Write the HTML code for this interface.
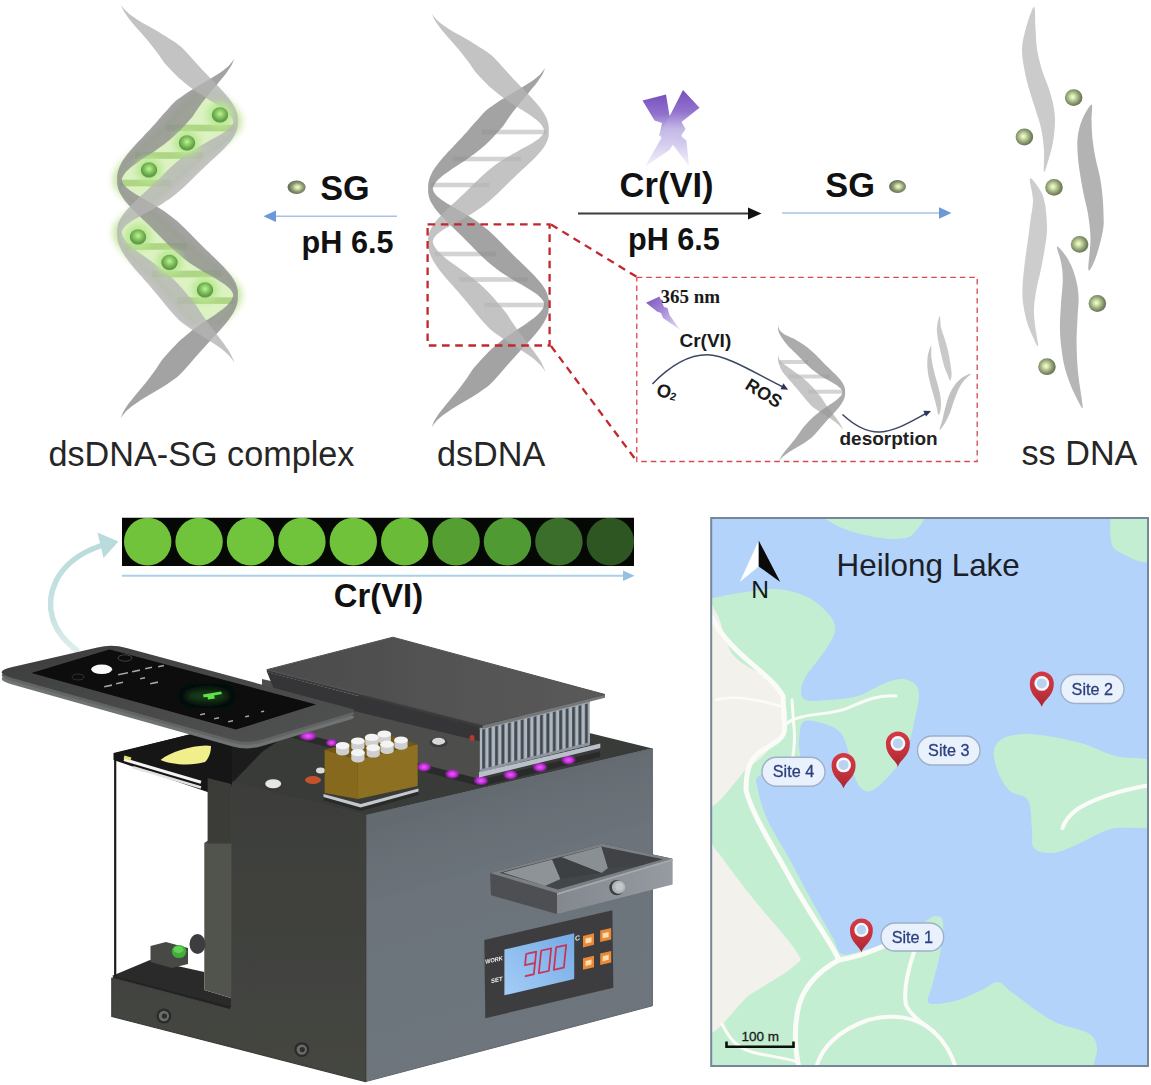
<!DOCTYPE html>
<html><head><meta charset="utf-8"><title>Graphical abstract</title>
<style>html,body{margin:0;padding:0;background:#fff;}body{width:1151px;height:1085px;overflow:hidden;font-family:"Liberation Sans",sans-serif;}svg{display:block;}</style>
</head><body>
<svg width="1151" height="1085" viewBox="0 0 1151 1085">
<rect width="1151" height="1085" fill="#ffffff"/>
<defs><path id="hxL" d="M432.1,14 L433.6,16.3 L435.5,18.6 L437.8,20.8 L440.3,23 L443,25.1 L446,27.1 L449.2,29.2 L452.5,31.2 L455.9,33.2 L459.4,35.1 L462.9,37.1 L466.4,39.1 L469.9,41.1 L473.3,43.2 L476.7,45.2 L480,47.4 L483.3,49.5 L486.4,51.6 L489.4,53.8 L492.3,56 L494.8,58.5 L497.2,61.1 L499.5,63.5 L501.7,66 L504,68.5 L506.2,71 L508.5,73.5 L510.8,76.1 L513.2,78.7 L515.7,81.3 L518.3,84 L521,86.7 L523.7,89.5 L526.5,92.4 L529.2,95.3 L532,98.2 L534.7,101.2 L537.3,104.2 L539.8,107.3 L542,110.3 L544.1,113.4 L545.8,116.6 L547.1,119.7 L548.1,122.8 L548.7,125.9 L548.9,128.9 L548.8,131.8 L548.8,134.9 L548.2,138 L547.1,141.3 L545.5,144.5 L543.5,147.7 L541.1,150.9 L538.4,154.1 L535.5,157.2 L532.5,160.2 L529.3,163.3 L526.2,166.2 L523,169.1 L519.9,172 L516.9,174.8 L514.1,177.5 L511.3,180.1 L508.6,182.7 L506,185.3 L503.5,187.8 L501,190.3 L498.4,192.8 L495.8,195.3 L493.1,197.8 L490.2,200.3 L487.2,202.8 L484.1,205.3 L480.8,207.7 L477.3,210.1 L473.7,212.4 L470.1,214.7 L466.3,216.8 L462.5,219 L458.8,221 L455.1,223.1 L451.5,225 L448.1,226.9 L444.9,228.8 L442,230.6 L439.4,232.4 L437.2,234.2 L435.4,236 L434,237.8 L433.1,239.7 L432.8,241.7 L433.4,243.9 L434.3,245.9 L435.5,248 L437,249.9 L438.7,251.9 L440.7,253.9 L442.9,255.9 L445.2,257.8 L447.8,259.9 L450.5,261.9 L453.4,264 L456.3,266.1 L459.3,268.2 L462.3,270.4 L465.4,272.6 L468.4,274.9 L471.4,277.2 L474.4,279.5 L477.3,281.9 L480.1,284.3 L482.8,286.8 L485.4,289.3 L487.9,291.8 L490.3,294.3 L492.6,296.8 L494.8,299.3 L497,301.9 L499.1,304.4 L501.1,306.8 L503.2,309.3 L505.2,311.8 L507.2,314.3 L508.9,317.1 L510.7,320 L512.6,322.8 L514.6,325.7 L516.6,328.6 L518.7,331.6 L521,334.6 L523.2,337.6 L525.6,340.5 L527.9,343.5 L530.2,346.5 L532.5,349.5 L534.7,352.4 L536.8,355.4 L538.8,358.3 L540.5,361.1 L542.1,363.9 L543.4,366.7 L544.5,369.3 L545.2,372 L545.2,372 L543.9,369.6 L542.3,367.3 L540.4,365.1 L538.3,362.9 L535.9,360.7 L533.4,358.6 L530.6,356.5 L527.7,354.5 L524.7,352.4 L521.6,350.4 L518.5,348.4 L515.3,346.4 L512,344.3 L508.8,342.3 L505.6,340.3 L502.4,338.2 L499.3,336.1 L496.3,333.9 L493.3,331.8 L490.4,329.6 L488,327 L485.6,324.5 L483.3,322 L481.1,319.5 L479,317 L476.9,314.5 L474.9,312 L472.9,309.5 L470.9,307 L468.8,304.5 L466.8,302 L464.6,299.5 L462.5,296.9 L460.2,294.3 L457.9,291.6 L455.5,288.9 L453.1,286.1 L450.6,283.4 L448.1,280.5 L445.6,277.7 L443.2,274.7 L440.8,271.8 L438.5,268.8 L436.4,265.8 L434.4,262.8 L432.7,259.8 L431.2,256.8 L429.9,253.7 L429,250.7 L428.4,247.7 L428.1,244.8 L428.2,241.9 L428.1,239 L428.4,235.9 L429.2,232.6 L430.5,229.4 L432.3,226.2 L434.5,223 L437,219.8 L439.8,216.7 L442.7,213.6 L445.8,210.5 L449,207.5 L452.1,204.6 L455.3,201.7 L458.3,198.9 L461.3,196.1 L464.1,193.4 L466.8,190.8 L469.4,188.3 L472,185.7 L474.5,183.2 L477.1,180.7 L479.6,178.2 L482.3,175.7 L485.1,173.2 L488,170.7 L491,168.2 L494.3,165.7 L497.6,163.3 L501.1,161 L504.7,158.7 L508.5,156.4 L512.2,154.3 L516,152.2 L519.8,150.1 L523.4,148.1 L526.9,146.2 L530.3,144.3 L533.3,142.5 L536.1,140.6 L538.5,138.9 L540.6,137.1 L542.2,135.3 L543.4,133.5 L544.2,131.5 L543.9,129.5 L543.1,127.4 L541.9,125.5 L540.4,123.6 L538.5,121.7 L536.4,119.8 L533.9,117.9 L531.3,116 L528.4,114.1 L525.3,112.1 L522.1,110 L518.8,108 L515.5,105.9 L512.1,103.7 L508.8,101.5 L505.4,99.2 L502.2,96.9 L499,94.5 L495.9,92.1 L493,89.6 L490.1,87.2 L487.4,84.6 L484.9,82.1 L482.4,79.6 L480,77.1 L477.7,74.6 L475.4,72.1 L473.5,69.3 L471.6,66.5 L469.6,63.6 L467.5,60.8 L465.4,57.9 L463.1,54.9 L460.7,51.9 L458.3,49 L455.7,45.9 L453.1,42.9 L450.4,39.9 L447.7,36.9 L445.1,33.9 L442.6,30.9 L440.2,28 L438,25.1 L436.1,22.2 L434.4,19.4 L433,16.7 L432.1,14Z"/><path id="hxD" d="M545,68 L544.1,70.7 L542.9,73.4 L541.3,76.2 L539.4,79.1 L537.4,81.9 L535.1,84.9 L532.7,87.8 L530.2,90.8 L527.7,93.9 L525.1,96.9 L522.5,99.9 L520,102.9 L517.6,105.9 L515.3,108.9 L513,111.8 L510.9,114.8 L508.9,117.6 L506.9,120.5 L505.1,123.3 L503.2,126.1 L501,128.6 L498.8,131.1 L496.5,133.6 L494.2,136.1 L491.8,138.7 L489.2,141.2 L486.6,143.7 L483.8,146.2 L480.9,148.7 L478,151.1 L474.9,153.5 L471.7,155.8 L468.5,158.1 L465.2,160.4 L461.9,162.5 L458.6,164.7 L455.4,166.8 L452.3,168.8 L449.3,170.9 L446.4,172.9 L443.8,174.8 L441.4,176.7 L439.2,178.7 L437.3,180.6 L435.7,182.5 L434.4,184.5 L433.4,186.5 L432.8,188.6 L433.2,190.6 L434.1,192.6 L435.5,194.4 L437.2,196.2 L439.3,198.1 L441.8,199.9 L444.5,201.8 L447.5,203.7 L450.8,205.6 L454.2,207.6 L457.7,209.6 L461.3,211.7 L465,213.8 L468.6,216 L472.2,218.3 L475.7,220.6 L479,223 L482.3,225.4 L485.4,227.9 L488.4,230.3 L491.2,232.9 L493.9,235.4 L496.5,237.9 L499,240.4 L501.5,242.9 L503.9,245.4 L506.3,247.9 L508.8,250.5 L511.3,253.1 L514,255.7 L516.7,258.4 L519.6,261.1 L522.5,264 L525.5,266.8 L528.5,269.8 L531.6,272.8 L534.5,275.8 L537.3,278.9 L540,282 L542.4,285.1 L544.5,288.3 L546.3,291.5 L547.6,294.7 L548.5,297.9 L548.9,301 L548.8,304 L548.9,306.9 L548.7,309.8 L548.1,312.9 L547.1,316 L545.8,319.1 L544.1,322.2 L542.2,325.2 L540.1,328.3 L537.8,331.3 L535.3,334.3 L532.7,337.3 L530.1,340.2 L527.5,343.1 L524.8,346 L522.2,348.8 L519.6,351.5 L517.1,354.2 L514.7,356.9 L512.4,359.5 L510.1,362 L507.9,364.6 L505.7,367.1 L503.6,369.6 L501.4,372.1 L499.3,374.6 L497,377.1 L494.8,379.6 L492.4,382.1 L489.9,384.6 L487,386.9 L484,389.1 L480.9,391.2 L477.7,393.4 L474.5,395.5 L471.2,397.5 L467.8,399.6 L464.4,401.6 L461,403.6 L457.6,405.6 L454.3,407.6 L451.1,409.6 L448,411.7 L445,413.7 L442.2,415.8 L439.6,417.9 L437.2,420.1 L435.2,422.4 L433.4,424.7 L431.9,427 L431.9,427 L432.8,424.3 L434,421.6 L435.5,418.8 L437.3,416 L439.3,413.1 L441.5,410.2 L443.9,407.2 L446.3,404.2 L448.8,401.2 L451.3,398.2 L453.8,395.2 L456.3,392.2 L458.7,389.2 L461,386.2 L463.2,383.2 L465.4,380.3 L467.4,377.4 L469.3,374.6 L471.1,371.7 L473,368.9 L475.1,366.4 L477.3,363.9 L479.5,361.4 L481.8,358.9 L484.1,356.4 L486.6,353.9 L489.1,351.3 L491.8,348.8 L494.6,346.4 L497.5,343.9 L500.5,341.5 L503.5,339.1 L506.7,336.8 L509.9,334.5 L513.1,332.3 L516.4,330.1 L519.6,328 L522.7,325.9 L525.8,323.9 L528.7,321.8 L531.4,319.8 L534,317.9 L536.3,315.9 L538.4,314 L540.2,312.1 L541.7,310.2 L542.9,308.2 L543.8,306.1 L544.2,304 L543.7,302 L542.6,300.1 L541.2,298.2 L539.4,296.4 L537.2,294.6 L534.7,292.7 L531.9,290.9 L528.8,288.9 L525.5,287 L522.1,285 L518.5,283 L514.9,280.9 L511.3,278.7 L507.7,276.5 L504.1,274.3 L500.6,271.9 L497.3,269.6 L494.1,267.1 L491,264.6 L488,262.1 L485.2,259.6 L482.5,257.1 L480,254.6 L477.5,252.1 L475,249.6 L472.6,247.1 L470.2,244.6 L467.7,242 L465.1,239.4 L462.5,236.8 L459.7,234.1 L456.8,231.3 L453.9,228.5 L450.9,225.6 L447.8,222.6 L444.8,219.6 L441.9,216.6 L439.1,213.5 L436.5,210.4 L434.1,207.2 L432.1,204.1 L430.4,200.9 L429.2,197.7 L428.4,194.5 L428.1,191.4 L428.2,188.4 L428.1,185.5 L428.5,182.5 L429.2,179.4 L430.3,176.3 L431.7,173.2 L433.4,170.1 L435.5,167 L437.7,164 L440.1,161 L442.7,158 L445.3,155 L448,152.1 L450.7,149.2 L453.4,146.4 L456,143.6 L458.6,140.8 L461.1,138.2 L463.5,135.5 L465.9,132.9 L468.1,130.4 L470.3,127.8 L472.5,125.3 L474.7,122.8 L476.9,120.4 L479.1,117.9 L481.4,115.3 L483.8,112.8 L486.3,110.3 L489.1,108.1 L492.2,105.9 L495.3,103.7 L498.5,101.6 L501.7,99.5 L505.1,97.4 L508.5,95.4 L511.9,93.3 L515.3,91.3 L518.8,89.3 L522.1,87.3 L525.4,85.3 L528.6,83.3 L531.7,81.2 L534.5,79.2 L537.2,77 L539.6,74.9 L541.7,72.6 L543.5,70.3 L545,68Z"/><path id="hxL2" d="M430.9,238 L430.9,240.5 L431.3,243 L432.1,245.3 L433.3,247.6 L434.8,249.7 L436.7,251.7 L438.8,253.6 L441.2,255.5 L443.9,257.2 L446.7,259 L449.4,261 L452.2,263.1 L455.1,265.2 L458.1,267.4 L461.2,269.6 L464.3,271.8 L467.3,274 L470.4,276.4 L473.4,278.7 L476.3,281.1 L479.2,283.5 L481.9,286 L484.6,288.5 L487.2,291.1 L489.6,293.6 L492,296.1 L494.3,298.7 L496.5,301.2 L498.6,303.8 L500.7,306.3 L502.7,308.8 L504.7,311.3 L506.8,313.8 L508.6,316.6 L510.4,319.4 L512.3,322.3 L514.2,325.3 L516.3,328.2 L518.4,331.2 L520.7,334.2 L523,337.2 L525.3,340.2 L527.7,343.2 L530,346.3 L532.3,349.3 L534.6,352.2 L536.7,355.2 L538.7,358.1 L540.5,361 L542.1,363.8 L543.4,366.6 L544.5,369.3 L545.2,372 L545.2,372 L543.9,369.6 L542.3,367.3 L540.4,365 L538.2,362.8 L535.8,360.6 L533.2,358.5 L530.4,356.4 L527.5,354.3 L524.5,352.2 L521.3,350.2 L518.1,348.2 L514.9,346.1 L511.6,344.1 L508.4,342 L505.1,339.9 L501.9,337.8 L498.8,335.7 L495.7,333.5 L492.8,331.3 L489.9,329.1 L487.5,326.5 L485.1,324 L482.8,321.4 L480.6,318.9 L478.5,316.4 L476.4,313.8 L474.4,311.3 L472.3,308.8 L470.3,306.3 L468.2,303.8 L466.1,301.2 L464,298.6 L461.7,296 L459.4,293.4 L457.1,290.7 L454.6,287.9 L452.2,285.1 L449.6,282.3 L447.1,279.4 L444.6,276.5 L442.2,273.6 L439.8,270.6 L437.6,267.6 L435.8,264.3 L434.3,261 L432.9,257.8 L431.8,254.6 L430.9,251.6 L430.3,248.7 L430,245.8 L429.9,243.1 L430.1,240.5 L430.9,238Z"/><path id="hxD2" d="M430.8,186 L430.8,188.5 L431.3,190.9 L432.2,193.2 L433.6,195.4 L435.5,197.4 L437.8,199.3 L440.4,201.2 L443.4,203 L446.7,204.7 L450.2,206.3 L453.9,208 L457.7,209.6 L461.4,211.7 L465,213.8 L468.6,216 L472.2,218.3 L475.7,220.6 L479.1,223 L482.3,225.4 L485.4,227.9 L488.4,230.4 L491.2,232.9 L493.9,235.4 L496.5,237.9 L499,240.4 L501.5,242.9 L503.9,245.4 L506.3,247.9 L508.8,250.5 L511.3,253.1 L514,255.7 L516.7,258.4 L519.6,261.1 L522.5,264 L525.5,266.8 L528.5,269.8 L531.6,272.8 L534.5,275.8 L537.3,278.9 L540,282 L542.4,285.1 L544.5,288.3 L546.3,291.5 L547.6,294.7 L548.5,297.9 L548.9,301 L548.8,304 L548.9,306.9 L548.7,309.8 L548.1,312.9 L547.1,316 L545.8,319.1 L544.1,322.2 L542.2,325.2 L540.1,328.3 L537.8,331.3 L535.3,334.3 L532.7,337.3 L530.1,340.2 L527.5,343.1 L524.8,346 L522.2,348.8 L519.6,351.5 L517.1,354.2 L514.7,356.9 L512.4,359.5 L510.1,362 L507.9,364.6 L505.7,367.1 L503.6,369.6 L501.4,372.1 L499.3,374.6 L497,377.1 L494.8,379.6 L492.4,382.1 L489.9,384.7 L487,386.9 L484,389.1 L480.9,391.2 L477.7,393.4 L474.5,395.5 L471.2,397.5 L467.8,399.6 L464.4,401.6 L461,403.6 L457.6,405.6 L454.3,407.6 L451.1,409.6 L448,411.7 L445,413.7 L442.2,415.8 L439.6,417.9 L437.2,420.1 L435.2,422.4 L433.4,424.7 L431.9,427 L431.9,427 L432.8,424.3 L434,421.6 L435.5,418.8 L437.3,416 L439.3,413.1 L441.5,410.2 L443.9,407.2 L446.3,404.2 L448.8,401.2 L451.3,398.2 L453.8,395.2 L456.3,392.2 L458.7,389.2 L461,386.2 L463.2,383.2 L465.3,380.3 L467.4,377.4 L469.3,374.6 L471.1,371.7 L473,368.9 L475.1,366.4 L477.3,363.9 L479.5,361.4 L481.8,358.9 L484.1,356.4 L486.6,353.9 L489.1,351.3 L491.8,348.8 L494.6,346.4 L497.5,343.9 L500.5,341.5 L503.5,339.1 L506.7,336.8 L509.9,334.5 L513.1,332.3 L516.4,330.1 L519.6,328 L522.7,325.9 L525.8,323.9 L528.7,321.8 L531.4,319.8 L534,317.9 L536.3,315.9 L538.4,314 L540.2,312.1 L541.7,310.2 L542.9,308.2 L543.8,306.1 L544.2,304 L543.7,302 L542.6,300.1 L541.2,298.2 L539.4,296.4 L537.2,294.6 L534.7,292.7 L531.9,290.9 L528.8,288.9 L525.5,287 L522.1,285 L518.5,283 L514.9,280.9 L511.3,278.7 L507.7,276.5 L504.1,274.3 L500.6,271.9 L497.3,269.6 L494.1,267.1 L491,264.6 L488,262.1 L485.2,259.6 L482.5,257.1 L480,254.6 L477.5,252.1 L475.1,249.6 L472.6,247.1 L470.2,244.6 L467.7,242 L465.1,239.4 L462.5,236.8 L459.7,234.1 L456.8,231.3 L453.9,228.5 L450.9,225.6 L447.9,222.6 L445.1,219.3 L442.5,215.9 L440,212.5 L437.6,209.2 L435.5,206 L433.6,202.8 L432.1,199.7 L431,196.7 L430.3,193.8 L430.1,191.1 L430.2,188.5 L430.8,186Z"/>
<radialGradient id="bg" cx="0.5" cy="0.42" r="0.6"><stop offset="0" stop-color="#c4f0a0"/><stop offset="0.35" stop-color="#8ed066"/><stop offset="0.8" stop-color="#5e9a48"/><stop offset="1" stop-color="#5e8a50" stop-opacity="0.7"/></radialGradient>
<radialGradient id="bo" cx="0.44" cy="0.46" r="0.58"><stop offset="0" stop-color="#f6fbe0"/><stop offset="0.22" stop-color="#d6e6b0"/><stop offset="0.55" stop-color="#9dae7c"/><stop offset="0.88" stop-color="#6d7859"/><stop offset="1" stop-color="#5a6449" stop-opacity="0.75"/></radialGradient>
<radialGradient id="bo2" cx="0.55" cy="0.5" r="0.55"><stop offset="0" stop-color="#f0fad2"/><stop offset="0.25" stop-color="#cfe0a6"/><stop offset="0.6" stop-color="#8a9870"/><stop offset="1" stop-color="#5d6551"/></radialGradient>
<linearGradient id="pg" x1="0" y1="0" x2="0" y2="1"><stop offset="0" stop-color="#7850be"/><stop offset="0.28" stop-color="#9272cd"/><stop offset="0.5" stop-color="#c2b6e5"/><stop offset="0.75" stop-color="#d9d2f0"/><stop offset="1" stop-color="#f4f1fb"/></linearGradient>
<filter id="bl3" x="-30%" y="-30%" width="160%" height="160%"><feGaussianBlur stdDeviation="3"/></filter>
<filter id="bl1" x="-10%" y="-10%" width="120%" height="120%"><feGaussianBlur stdDeviation="0.7"/></filter>
<filter id="bl05"><feGaussianBlur stdDeviation="0.5"/></filter>
</defs>
<g id="midhelix" filter="url(#bl05)">
<rect x="482.1" y="129.7" width="64.4" height="4.6" fill="#d3d3d3"/><rect x="452.6" y="156.7" width="68.8" height="4.6" fill="#d3d3d3"/><rect x="431" y="182.7" width="58.6" height="4.6" fill="#d3d3d3"/><rect x="434.7" y="251.7" width="61.4" height="4.6" fill="#d3d3d3"/><rect x="459.4" y="277.2" width="68.3" height="4.6" fill="#d3d3d3"/><rect x="484.3" y="302.7" width="62.2" height="4.6" fill="#d3d3d3"/>
<use href="#hxD" fill="#8f8f8f" fill-opacity="0.82"/>
<use href="#hxL" fill="#b4b4b4" fill-opacity="0.8"/>
</g>
<g transform="translate(-311,-9)" filter="url(#bl05)">
<path d="M506.8,100 L503.5,102.9 L500.2,105.8 L497.1,108.7 L494.1,111.6 L491.3,114.5 L488.5,117.4 L485.8,120.3 L483.1,123.2 L480.5,126.1 L477.9,129 L475.2,131.9 L472.4,134.8 L469.6,137.7 L466.6,140.6 L463.5,143.5 L460.3,146.4 L457,149.3 L453.6,152.2 L450.2,155.1 L446.8,158 L443.3,160.9 L440,163.8 L436.9,166.7 L433.9,169.6 L431.2,172.5 L428.8,175.4 L426.9,178.3 L425.3,181.2 L424.2,184.1 L423.6,187 L423.5,189.9 L424,192.8 L425.2,195.7 L426.9,198.6 L429.1,201.5 L431.8,204.4 L434.9,207.3 L438.2,210.2 L441.9,213.1 L444.5,216 L459.6,216 L462.5,213.1 L466.5,210.2 L470.5,207.3 L474.3,204.4 L478,201.5 L481.6,198.6 L485,195.7 L488.2,192.8 L491.4,189.9 L494.4,187 L497.5,184.1 L500.6,181.2 L503.8,178.3 L507.1,175.4 L510.5,172.5 L514.1,169.6 L517.9,166.7 L521.7,163.8 L525.7,160.9 L529.7,158 L533.7,155.1 L537.6,152.2 L541.2,149.3 L544.5,146.4 L547.4,143.5 L549.8,140.6 L551.7,137.7 L552.9,134.8 L553.5,131.9 L553.4,129 L552.7,126.1 L551.6,123.2 L549.9,120.3 L547.8,117.4 L545.3,114.5 L542.5,111.6 L539.4,108.7 L536.1,105.8 L532.6,102.9 L529.1,100Z" fill="#c9e8a4" filter="url(#bl3)" opacity="0.95"/>
<path d="M441.8,218 L438,220.9 L434.5,223.8 L431.3,226.7 L428.6,229.6 L426.4,232.5 L424.8,235.4 L423.8,238.3 L423.5,241.2 L423.7,244.1 L424.4,247 L425.5,249.9 L427,252.8 L428.9,255.7 L431,258.6 L433.5,261.5 L436.2,264.4 L439.1,267.3 L442.2,270.2 L445.3,273.1 L448.5,276 L451.7,278.9 L454.9,281.8 L458,284.7 L461,287.6 L464,290.5 L466.8,293.4 L469.6,296.3 L472.2,299.2 L474.8,302.1 L477.3,305 L479.7,307.9 L482.2,310.8 L484.6,313.7 L487.1,316.6 L489.6,319.5 L492.2,322.4 L494.9,325.3 L497.7,328.2 L500.6,331.1 L503.6,334 L532,334 L535.3,331.1 L538.5,328.2 L541.5,325.3 L544.3,322.4 L546.9,319.5 L549,316.6 L550.8,313.7 L552.2,310.8 L553.1,307.9 L553.5,305 L553.4,302.1 L552.6,299.2 L551.3,296.3 L549.4,293.4 L547,290.5 L544.2,287.6 L541,284.7 L537.5,281.8 L533.8,278.9 L530,276 L526.2,273.1 L522.4,270.2 L518.6,267.3 L515,264.4 L511.5,261.5 L508.2,258.6 L505,255.7 L501.9,252.8 L498.9,249.9 L496,247 L493.1,244.1 L490.1,241.2 L487.1,238.3 L483.9,235.4 L480.6,232.5 L477.2,229.6 L473.6,226.7 L469.9,223.8 L466.1,220.9 L462.3,218Z" fill="#c9e8a4" filter="url(#bl3)" opacity="0.95"/>
<path d="M510.3,103 L507.2,105.8 L504.2,108.7 L501.3,111.5 L498.5,114.3 L495.7,117.1 L493.1,120 L490.5,122.8 L488,125.6 L485.4,128.4 L482.8,131.2 L480.1,134.1 L477.4,136.9 L474.5,139.7 L471.6,142.6 L468.5,145.4 L465.3,148.2 L462,151 L458.7,153.8 L455.3,156.7 L452,159.5 L448.7,162.3 L445.5,165.2 L442.5,168 L439.7,170.8 L437.2,173.6 L435.1,176.4 L433.3,179.3 L431.9,182.1 L431,184.9 L430.5,187.8 L430.6,190.6 L431.2,193.4 L432.4,196.2 L434.2,199.1 L436.4,201.9 L439.1,204.7 L442.1,207.5 L445.4,210.3 L449,213.2 L451.5,216 L452.6,216 L455.4,213.2 L459.3,210.3 L463.2,207.5 L466.9,204.7 L470.6,201.9 L474,199.1 L477.4,196.2 L480.6,193.4 L483.6,190.6 L486.7,187.8 L489.6,184.9 L492.6,182.1 L495.7,179.3 L498.9,176.4 L502.1,173.6 L505.6,170.8 L509.2,168 L512.9,165.2 L516.8,162.3 L520.7,159.5 L524.6,156.7 L528.4,153.8 L532.1,151 L535.5,148.2 L538.6,145.4 L541.3,142.6 L543.5,139.7 L545.1,136.9 L546.1,134.1 L546.5,131.2 L546.3,128.4 L545.6,125.6 L544.4,122.8 L542.7,120 L540.6,117.1 L538.1,114.3 L535.4,111.5 L532.3,108.7 L529.1,105.8 L525.7,103Z" fill="#dcf2c2"/>
<path d="M448.8,218 L445.1,220.8 L441.7,223.7 L438.6,226.5 L435.9,229.3 L433.6,232.1 L432,234.9 L430.9,237.8 L430.5,240.6 L430.7,243.4 L431.2,246.2 L432.2,249.1 L433.5,251.9 L435.2,254.7 L437.2,257.6 L439.5,260.4 L442.1,263.2 L444.8,266 L447.7,268.9 L450.8,271.7 L453.8,274.5 L457,277.3 L460.1,280.1 L463.1,283 L466.2,285.8 L469.1,288.6 L471.9,291.4 L474.7,294.3 L477.3,297.1 L479.9,299.9 L482.3,302.8 L484.8,305.6 L487.2,308.4 L489.5,311.2 L491.9,314.1 L494.3,316.9 L496.8,319.7 L499.4,322.5 L502,325.4 L504.7,328.2 L507.5,331 L528.4,331 L531.5,328.2 L534.5,325.4 L537.2,322.5 L539.7,319.7 L541.8,316.9 L543.6,314.1 L545,311.2 L545.9,308.4 L546.4,305.6 L546.4,302.8 L545.9,299.9 L544.7,297.1 L543.1,294.3 L540.9,291.4 L538.3,288.6 L535.3,285.8 L532,283 L528.5,280.1 L524.8,277.3 L521.1,274.5 L517.3,271.7 L513.6,268.9 L510,266 L506.6,263.2 L503.2,260.4 L500,257.6 L497,254.7 L494,251.9 L491.1,249.1 L488.2,246.2 L485.4,243.4 L482.5,240.6 L479.5,237.8 L476.4,234.9 L473.2,232.1 L469.8,229.3 L466.3,226.5 L462.7,223.7 L459,220.8 L455.3,218Z" fill="#dcf2c2"/>
<rect x="477.3" y="133.7" width="67.8" height="6.6" fill="#aed584"/><rect x="446.2" y="161.2" width="67.6" height="6.6" fill="#aed584"/><rect x="430.8" y="188.7" width="51.3" height="6.6" fill="#aed584"/><rect x="435.7" y="252.2" width="62.1" height="6.6" fill="#aed584"/><rect x="463.2" y="279.7" width="68.8" height="6.6" fill="#aed584"/><rect x="488.2" y="306.3" width="57.4" height="6.6" fill="#aed584"/>
<use href="#hxD" fill="#8f8f8f" fill-opacity="0.82"/>
<use href="#hxL" fill="#b4b4b4" fill-opacity="0.8"/>
</g>
<circle cx="220" cy="115" r="13" fill="#b8e890" filter="url(#bl3)" opacity="0.9"/>
<ellipse cx="220" cy="115" rx="8.2" ry="7.8" fill="url(#bg)"/>
<circle cx="187" cy="143" r="13" fill="#b8e890" filter="url(#bl3)" opacity="0.9"/>
<ellipse cx="187" cy="143" rx="8.2" ry="7.8" fill="url(#bg)"/>
<circle cx="149" cy="170" r="13" fill="#b8e890" filter="url(#bl3)" opacity="0.9"/>
<ellipse cx="149" cy="170" rx="8.2" ry="7.8" fill="url(#bg)"/>
<circle cx="138" cy="237" r="13" fill="#b8e890" filter="url(#bl3)" opacity="0.9"/>
<ellipse cx="138" cy="237" rx="8.2" ry="7.8" fill="url(#bg)"/>
<circle cx="169.5" cy="262.5" r="13" fill="#b8e890" filter="url(#bl3)" opacity="0.9"/>
<ellipse cx="169.5" cy="262.5" rx="8.2" ry="7.8" fill="url(#bg)"/>
<circle cx="205" cy="290" r="13" fill="#b8e890" filter="url(#bl3)" opacity="0.9"/>
<ellipse cx="205" cy="290" rx="8.2" ry="7.8" fill="url(#bg)"/>
<g font-family="Liberation Sans, sans-serif" fill="#262626">
<text x="48.5" y="466" font-size="34.2">dsDNA-SG complex</text>
<text x="437" y="466" font-size="34.2">dsDNA</text>
<text x="1021.5" y="464.8" font-size="34.2">ss DNA</text>
</g>
<g font-family="Liberation Sans, sans-serif" font-weight="bold" fill="#111">
<text x="320.3" y="199.8" font-size="34.2">SG</text>
<text x="301.6" y="253.2" font-size="30.6">pH 6.5</text>
<text x="619.6" y="197" font-size="34.5">Cr(VI)</text>
<text x="628" y="250" font-size="30.6">pH 6.5</text>
<text x="825.2" y="197.3" font-size="34.4">SG</text>
</g>
<ellipse cx="296.6" cy="187.2" rx="9" ry="6.8" fill="url(#bo2)" filter="url(#bl05)"/>
<ellipse cx="897.5" cy="186.5" rx="8.5" ry="6.5" fill="url(#bo2)" filter="url(#bl05)"/>
<line x1="272" y1="216.3" x2="397" y2="216.3" stroke="#a9c3e6" stroke-width="1.6"/>
<path d="M263.5,216.3 L276,210.6 L276,222 Z" fill="#6c97d8"/>
<line x1="578" y1="213.5" x2="750" y2="213.5" stroke="#3c3c3c" stroke-width="1.8"/>
<path d="M761.5,213.5 L748,207.5 L748,219.5 Z" fill="#111"/>
<line x1="782" y1="213" x2="942" y2="213" stroke="#a9c3e6" stroke-width="1.6"/>
<path d="M951.5,213 L939,207.3 L939,218.7 Z" fill="#6c97d8"/>
<g filter="url(#bl1)"><path d="M642.5,100.5 L666,94.5 L669.5,115.5 L676,121 L682,137 L686.5,140.5 L689,166 L670,141 L664,142 L659.5,134.5 L662,123 L654.5,120.5Z" fill="url(#pg)"/><path d="M683,90 L699.5,107.8 L681.5,122 L685.5,129 L680.5,136.5 L672,146 L669.5,150 L645,166.5 L662,137 L659,135 L665,124 L671,113.5Z" fill="url(#pg)"/></g>
<g fill="none" stroke="#c2272d" stroke-width="2.3" stroke-dasharray="7.6 5.6" filter="url(#bl05)">
<rect x="427.6" y="224.3" width="122" height="121.2"/>
<line x1="551" y1="224.5" x2="637" y2="277"/>
<line x1="551" y1="346" x2="637" y2="461.5"/>
</g>
<rect x="636.8" y="277.3" width="340.4" height="184.2" fill="none" stroke="#d5494f" stroke-width="1.3" stroke-dasharray="5.5 4"/>
<g filter="url(#bl05)">
<path d="M1034,7 C1032.4,7 1028,21 1026,28 C1024,35 1022.2,42 1022,49 C1021.8,56 1023.3,63.3 1024.5,70 C1025.7,76.7 1027.2,82.7 1029,89 C1030.8,95.3 1033,101.5 1035,108 C1037,114.5 1039.5,121 1041,128 C1042.5,135 1043.5,142.7 1044,150 C1044.5,157.3 1043.2,170.7 1044,172 C1044.8,173.3 1047.5,163 1049,158 C1050.5,153 1052,148 1053,142 C1054,136 1054.9,128 1055,122 C1055.1,116 1054.5,111.5 1053.5,106 C1052.5,100.5 1050.9,95 1049,89 C1047.1,83 1044,76.7 1042,70 C1040,63.3 1038.1,56 1037,49 C1035.9,42 1036,35 1035.5,28 C1035,21 1035.6,7 1034,7Z" fill="#cbcbcb"/>
<path d="M1091.5,104.5 C1089.9,104.5 1084.3,114.4 1082,120 C1079.7,125.6 1078.3,131.7 1077.6,138 C1076.9,144.3 1077.5,151.4 1078,158 C1078.5,164.6 1079.6,171.2 1080.6,177.5 C1081.6,183.8 1082.8,189.9 1084,196 C1085.2,202.1 1086.9,206.8 1088,214 C1089.1,221.2 1090.4,229.7 1090.5,239 C1090.6,248.3 1087.6,267 1088.5,270 C1089.4,273 1093.6,263.7 1096,257 C1098.4,250.3 1101.8,237.2 1103,230 C1104.2,222.8 1103.6,219.7 1103.5,214 C1103.4,208.3 1103.1,202.1 1102.5,196 C1101.9,189.9 1101.2,183.8 1100,177.5 C1098.8,171.2 1096.8,164.6 1095.5,158 C1094.2,151.4 1093.1,144.3 1092.4,138 C1091.7,131.7 1091.7,125.6 1091.5,120 C1091.3,114.4 1093.1,104.5 1091.5,104.5Z" fill="#b3b3b3"/>
<path d="M1030,178.5 C1028.8,180.2 1032.9,193.1 1033,200 C1033.1,206.9 1031.3,213.4 1030.5,220 C1029.7,226.6 1029,232 1028,239.5 C1027,247 1025.4,256.8 1024.5,265 C1023.6,273.2 1022.6,282.2 1022.4,289 C1022.2,295.8 1022.7,300.5 1023.5,306 C1024.3,311.5 1025.6,317.2 1027,322 C1028.4,326.8 1030.2,331 1032,335 C1033.8,339 1037.5,347.7 1038,346 C1038.5,344.3 1035.7,331.2 1035,325 C1034.3,318.8 1033.8,314.5 1034,308.5 C1034.2,302.5 1035.3,295.6 1036.5,289 C1037.7,282.4 1039.7,275.5 1041,269 C1042.3,262.5 1043.5,256.6 1044.5,250 C1045.5,243.4 1046.9,237.2 1047,229.5 C1047.1,221.8 1046.2,210.6 1045,204 C1043.8,197.4 1042.5,194.2 1040,190 C1037.5,185.8 1031.2,176.8 1030,178.5Z" fill="#cdcdcd"/>
<path d="M1057,246.5 C1056.2,247.5 1060,256.6 1061,262 C1062,267.4 1062.8,272 1062.8,279 C1062.8,286 1061.5,295.8 1061,304 C1060.5,312.2 1059.8,320.5 1059.9,328 C1060,335.5 1060.7,342.4 1061.5,349 C1062.3,355.6 1063.2,361.5 1064.8,367.7 C1066.4,373.9 1068.7,380.3 1071,386 C1073.3,391.7 1076.7,398.3 1078.6,402 C1080.5,405.7 1082.2,409.3 1082.6,408 C1083,406.7 1081.7,399.1 1081,394 C1080.3,388.9 1079.3,383.5 1078.6,377.5 C1077.9,371.5 1077.3,364.6 1077,358 C1076.7,351.4 1076.5,344.7 1076.6,338 C1076.7,331.3 1077.2,324.6 1077.5,318 C1077.8,311.4 1078.7,304.3 1078.6,298.6 C1078.5,292.9 1078,288.9 1077,284 C1076,279.1 1074.5,273.7 1072.7,269 C1070.9,264.3 1068.6,259.8 1066,256 C1063.4,252.2 1057.8,245.5 1057,246.5Z" fill="#b6b6b6"/>
</g>
<ellipse cx="1073.7" cy="97.6" rx="8.8" ry="8.4" fill="url(#bo)"/>
<ellipse cx="1024.4" cy="137" rx="8.8" ry="8.4" fill="url(#bo)"/>
<ellipse cx="1054" cy="187.4" rx="8.8" ry="8.4" fill="url(#bo)"/>
<ellipse cx="1079.6" cy="244.4" rx="8.8" ry="8.4" fill="url(#bo)"/>
<ellipse cx="1097.4" cy="303.5" rx="8.8" ry="8.4" fill="url(#bo)"/>
<ellipse cx="1047" cy="366.7" rx="8.8" ry="8.4" fill="url(#bo)"/>
<rect x="779" y="360" width="29" height="4" fill="#d4d4d4"/>
<rect x="789" y="374.5" width="41" height="4" fill="#d4d4d4"/>
<rect x="808" y="389.7" width="36" height="4" fill="#d4d4d4"/>
<g transform="translate(535,220.2) scale(0.565)" filter="url(#bl05)">
<use href="#hxL2" fill="#b8b8b8" fill-opacity="0.8"/>
<use href="#hxD2" fill="#999" fill-opacity="0.82"/>
</g>
<g filter="url(#bl05)">
<path d="M939.7,316 C939,316.1 937.1,324 936.9,328.2 C936.6,332.3 937.6,336.6 938.2,340.7 C938.9,344.9 939.9,348.8 940.8,352.8 C941.8,356.8 942.7,361.1 943.7,364.7 C944.8,368.3 946.3,371.8 947.4,374.4 C948.5,377 949.5,380.6 950.2,380.5 C950.9,380.4 951.6,376.5 951.6,373.6 C951.6,370.7 950.8,367 950.3,363.3 C949.7,359.5 949.1,355.2 948.2,351.2 C947.2,347.2 945.9,343.1 944.8,339.3 C943.6,335.4 942,331.7 941.1,327.8 C940.3,324 940.4,315.9 939.7,316Z" fill="#c9c9c9"/>
<path d="M931,346 C930.3,346 928,353.6 927.5,358 C927,362.4 927.3,367.7 927.9,372.5 C928.5,377.4 930,382.5 931.1,386.8 C932.2,391.2 933.5,395 934.4,398.6 C935.4,402.1 936.1,405.4 936.8,408.1 C937.5,410.9 938,415 938.7,415 C939.4,415 940.5,410.8 940.8,407.9 C941.1,404.9 941,401.2 940.6,397.4 C940.1,393.6 939,389.5 937.9,385.2 C936.8,380.8 935.1,376 934.1,371.5 C933,366.9 932,362.2 931.5,358 C931,353.8 931.7,346 931,346Z" fill="#c6c6c6"/>
<path d="M971.2,373.5 C970.8,373.1 963.7,376.3 960.7,378.7 C957.7,381 955.1,384.3 953,387.6 C950.9,390.9 949.3,394.6 947.9,398.4 C946.6,402.1 945.7,406.5 944.7,410.1 C943.8,413.8 943.1,417 942.3,420.3 C941.4,423.6 939.1,429.8 939.7,430 C940.3,430.2 944,424.7 945.7,421.7 C947.5,418.7 948.9,415.4 950.3,411.9 C951.6,408.4 952.8,404.2 954.1,400.6 C955.3,397 956.5,393.6 958,390.4 C959.6,387.2 961.1,384.1 963.3,381.3 C965.5,378.5 971.6,373.9 971.2,373.5Z" fill="#c2c2c2"/>
</g>
<text x="660.5" y="303.2" font-family="Liberation Serif, serif" font-weight="bold" font-size="19" fill="#1a1a1a">365 nm</text>
<text x="679.5" y="346.9" font-family="Liberation Sans, sans-serif" font-weight="bold" font-size="19" fill="#1a1a1a">Cr(VI)</text>
<text x="839.5" y="444.5" font-family="Liberation Sans, sans-serif" font-weight="bold" font-size="19" fill="#222">desorption</text>
<text transform="translate(655.5,395.5) rotate(14)" font-family="Liberation Sans, sans-serif" font-weight="bold" font-size="18.5" fill="#1a1a1a">O<tspan font-size="11" dy="0.5">2</tspan></text>
<text transform="translate(744,388) rotate(32)" font-family="Liberation Sans, sans-serif" font-weight="bold" font-size="18" fill="#1a1a1a">ROS</text>
<g filter="url(#bl05)"><path d="M646,302.8 L659.5,296.5 L664,307 L667.5,308 L669.5,315 L680.2,330 L663,318 L661,313 L657,311.5Z" fill="url(#pg2)"/></g>
<defs><linearGradient id="pg2" x1="0" y1="0" x2="1" y2="1"><stop offset="0" stop-color="#7a52bf"/><stop offset="0.45" stop-color="#a48ad6"/><stop offset="1" stop-color="#e8e2f6"/></linearGradient></defs>
<path d="M652.4,384 C666,370 686,354.8 707,354.8 C728,355 758,375 783,387" fill="none" stroke="#3b4663" stroke-width="1.5"/>
<path d="M788,389.7 L780.5,389.2 L783.5,383.3 Z" fill="#2b3558"/>
<path d="M842.5,414.5 C856,427 868,432.5 880,432 C896,431 912,421 926,413.5" fill="none" stroke="#3b4663" stroke-width="1.5"/>
<path d="M931,411 L926,416.5 L923.3,410.7 Z" fill="#2b3558"/>
<rect x="122" y="517.5" width="512" height="48.5" fill="#060806"/>
<g filter="url(#bl05)">
<ellipse cx="147.7" cy="541.7" rx="23.7" ry="23.9" fill="#6fc33a"/>
<ellipse cx="199.1" cy="541.7" rx="23.7" ry="23.9" fill="#70c43b"/>
<ellipse cx="250.5" cy="541.7" rx="23.7" ry="23.9" fill="#71c53c"/>
<ellipse cx="301.9" cy="541.7" rx="23.7" ry="23.9" fill="#70c43b"/>
<ellipse cx="353.3" cy="541.7" rx="23.7" ry="23.9" fill="#6fc23a"/>
<ellipse cx="404.7" cy="541.7" rx="23.7" ry="23.9" fill="#69bb37"/>
<ellipse cx="456.1" cy="541.7" rx="23.7" ry="23.9" fill="#549f31"/>
<ellipse cx="507.5" cy="541.7" rx="23.7" ry="23.9" fill="#4f9a30"/>
<ellipse cx="558.9" cy="541.7" rx="23.7" ry="23.9" fill="#3a6e29"/>
<ellipse cx="610.3" cy="541.7" rx="23.7" ry="23.9" fill="#2f5622"/>
</g>
<rect x="122" y="512" width="512" height="5.5" fill="#fff"/><rect x="122" y="566" width="512" height="4" fill="#fff"/>
<line x1="122" y1="575.8" x2="626" y2="575.8" stroke="#a9cfe9" stroke-width="2"/>
<path d="M634.5,575.8 L623,570.5 L623,581 Z" fill="#94c0e2"/>
<text x="333.8" y="607" font-family="Liberation Sans, sans-serif" font-weight="bold" font-size="32.8" fill="#111">Cr(VI)</text>
<defs><linearGradient id="tealg" gradientUnits="userSpaceOnUse" x1="0" y1="540" x2="0" y2="652"><stop offset="0" stop-color="#b9dbdb"/><stop offset="0.7" stop-color="#c9e3e3"/><stop offset="1" stop-color="#dfeeee"/></linearGradient></defs>
<g filter="url(#bl1)"><path d="M76.5,650 C52,632 44,606 56,581 C64,565 80,553 100,546" fill="none" stroke="url(#tealg)" stroke-width="5.5" stroke-linecap="round"/>
<path d="M118.5,541.5 L97.5,532.5 L103.5,558 Z" fill="#b9dbdb"/></g>
<defs>
<linearGradient id="dvR" x1="0" y1="0" x2="0.25" y2="1"><stop offset="0" stop-color="#5d6368"/><stop offset="0.45" stop-color="#6c737a"/><stop offset="1" stop-color="#6e757c"/></linearGradient>
<linearGradient id="dvL" x1="0" y1="0" x2="0" y2="1"><stop offset="0" stop-color="#3c3d3a"/><stop offset="1" stop-color="#454642"/></linearGradient><linearGradient id="lidg" x1="0" y1="0" x2="1" y2="0"><stop offset="0" stop-color="#4b4b4b"/><stop offset="1" stop-color="#5a5a5a"/></linearGradient>
<linearGradient id="lcd" x1="0" y1="1" x2="1" y2="0"><stop offset="0" stop-color="#a4cdf6"/><stop offset="1" stop-color="#74aae6"/></linearGradient>
<linearGradient id="phn" x1="0" y1="0" x2="1" y2="1"><stop offset="0" stop-color="#3d3e3e"/><stop offset="1" stop-color="#525353"/></linearGradient>
<pattern id="fins" width="6.42" height="10" patternUnits="userSpaceOnUse" patternTransform="translate(479.3,0)"><rect width="6.42" height="10" fill="#aeb6bf"/><rect x="2.9" width="3" height="10" fill="#434950"/></pattern>
<radialGradient id="led"><stop offset="0" stop-color="#e860f8"/><stop offset="0.6" stop-color="#c02ad6"/><stop offset="1" stop-color="#a020c0" stop-opacity="0.2"/></radialGradient>
</defs>
<g filter="url(#bl05)">
<path d="M114,753.5 L365.7,815.5 L652.4,748.6 L400.7,686.6Z" fill="#393a38" />
<path d="M114,753.5 L262,716 L300,726 L262,752 L231.2,784 L212,787Z" fill="#1d1e1e" />
<path d="M365.7,815.5 L652.4,748.6 L652.4,1005.8 L365.7,1081.6Z" fill="url(#dvR)" stroke="#60666b" stroke-width="1" stroke-linejoin="round"/>
<path d="M231.2,781.8 L365.7,815.5 L365.7,1081.6 L111.8,1016.5 L111.8,978 L229.5,1008.5 L231.2,1006Z" fill="url(#dvL)" stroke="#3c3d3a" stroke-width="1.2" stroke-linejoin="round"/>
<path d="M111.8,976 L150,960 L204.3,972 L204.3,990 L231,998 L231,1006.5 L229.5,1009Z" fill="#2b2c2a" />
<path d="M204.3,843 L231.2,843 L231.2,998 L204.3,990Z" fill="#51524e" />
<path d="M204.3,843 L212,838 L231.2,838 L231.2,843Z" fill="#454642" />
<path d="M150.5,946 L166,942 L188,948 L188,964 L172,968 L150.5,962Z" fill="#474844" />
<ellipse cx="197.5" cy="944" rx="8" ry="10" fill="#3c3e3f"/>
<ellipse cx="179" cy="951.5" rx="7.2" ry="6.6" fill="#3fae3a"/><ellipse cx="178.5" cy="949.5" rx="5" ry="3.6" fill="#63cf55"/>
<path d="M115.2,754 L115.2,976.5" stroke="#1a1a1a" stroke-width="2.2" fill="none"/>
<path d="M113,977 L230,1007.5" stroke="#222" stroke-width="2" fill="none"/>
<path d="M113.5,753 L200,732 L232,745 L232,786 L212,793.5 L113.5,760Z" fill="#161717" />
<path d="M207.6,778 L231.5,784 L231.5,843.5 L207.6,843.5Z" fill="#3a3b38" />
<path d="M160.5,760 C170,752 190,746 206,745.5 L211,746 C211,752 209,758 205,762 C192,766 172,765 160.5,760Z" fill="#f1ee8c"/>
<path d="M124,759.5 L201,782.3" stroke="#f4f4f4" stroke-width="3" fill="none"/>
<path d="M133,767.3 L201,787.6" stroke="#e2e2e2" stroke-width="2.6" fill="none"/>
<path d="M124,757 L131,759" stroke="#e8e060" stroke-width="3" fill="none"/>
<circle cx="163.9" cy="1016" r="7.4" fill="#2a2b29"/><circle cx="163.9" cy="1016" r="5.2" fill="#6a6c69"/><circle cx="164.4" cy="1016" r="2.6" fill="#2d2e2c"/>
<circle cx="301.8" cy="1049.6" r="7.4" fill="#2a2b29"/><circle cx="301.8" cy="1049.6" r="5.2" fill="#6a6c69"/><circle cx="302.3" cy="1049.6" r="2.6" fill="#2d2e2c"/>
<ellipse cx="273.2" cy="785.5" rx="9.5" ry="5.5" fill="#37393a"/><ellipse cx="273.2" cy="783.8" rx="8" ry="4.5" fill="#e6e6e6"/>
<ellipse cx="313" cy="780" rx="8" ry="4" fill="#c4532c"/>
<ellipse cx="320.5" cy="770.6" rx="4.5" ry="3" fill="#dcdcdc"/>
<path d="M262,679 L482.7,729 L482.7,779.5 L300,733 L262,723Z" fill="#4d4d4c" />
<path d="M262,723 L300,733 L481,779.5 L600,751.5 L600,757 L481,786.5 L300,740 L262,730Z" fill="#2a2b2c" />
<path d="M267,672 L482.7,728.5 L482.7,742 L275,692 Z" fill="#353637" filter="url(#bl1)"/>
<ellipse cx="438.6" cy="742.5" rx="9" ry="5" fill="#3a3c3d"/><ellipse cx="438.6" cy="741.3" rx="6.5" ry="3.6" fill="#d8d8d8"/>
<ellipse cx="472" cy="738" rx="2.5" ry="3" fill="#b8382c"/>
<ellipse cx="308" cy="736" rx="9" ry="5" fill="url(#led)"/>
<ellipse cx="331.5" cy="742.8" rx="6" ry="4" fill="url(#led)"/>
<ellipse cx="424" cy="767" rx="7.5" ry="5" fill="url(#led)"/>
<ellipse cx="452.3" cy="774" rx="7.5" ry="5" fill="url(#led)"/>
<ellipse cx="481" cy="780.6" rx="7.5" ry="5" fill="url(#led)"/>
<ellipse cx="510.5" cy="774.8" rx="7.5" ry="5" fill="url(#led)"/>
<ellipse cx="540" cy="767.2" rx="7.5" ry="5" fill="url(#led)"/>
<ellipse cx="568.5" cy="760" rx="7.5" ry="5" fill="url(#led)"/>
<path d="M479.8,727.5 L589.9,700.2 L589.9,745 L479.8,772.3Z" fill="url(#fins)" />
<path d="M479.8,727.5 L589.9,700.2 L589.9,703 L479.8,730.3Z" fill="#9aa2ab" />
<path d="M479.8,769.5 L589.9,742.2 L589.9,745 L479.8,772.3Z" fill="#8e959e" />
<path d="M479,772.3 L600.3,743.5 L600.3,748 L479,777.5Z" fill="#b9c0c9" />
<path d="M266.8,669.7 L482.7,725.1 L482.7,728.2 L266.8,672.2Z" fill="#3a3a3a" />
<path d="M482.7,725.1 L605,694.5 L605,697.8 L482.7,728.8Z" fill="#747677" />
<path d="M266.8,669.7 L392.9,637.2 L605,694.5 L482.7,725.1Z" fill="url(#lidg)" stroke="#505050" stroke-width="1" stroke-linejoin="round"/>
<path d="M323.5,796.5 L360.7,806.5 L418.5,791 L418.5,795 L360.7,811 L323.5,800.5Z" fill="#2a2b2c" />
<path d="M323.5,794 L360.7,804 L418.5,788.5 L418.5,791.5 L360.7,807.5 L323.5,797Z" fill="#c4c8cc" />
<path d="M324.6,749.8 L357.9,759.5 L357.9,799 L324.6,793Z" fill="#86691a" />
<path d="M357.9,759.5 L417.7,744.2 L417.7,786 L357.9,799Z" fill="#8e7020" />
<path d="M324.6,749.8 L384,733 L417.7,744.2 L357.9,759.5Z" fill="#705915" />
<path d="M377.7,734 l0,6.5 a6.6,3.3 0 0 0 13.2,0 l0,-6.5 Z" fill="#cfcfcf"/>
<ellipse cx="384.3" cy="734" rx="6.9" ry="3.6" fill="#f4f4f4"/>
<path d="M365.2,737.4 l0,6.5 a6.6,3.3 0 0 0 13.2,0 l0,-6.5 Z" fill="#cfcfcf"/>
<ellipse cx="371.8" cy="737.4" rx="6.9" ry="3.6" fill="#f4f4f4"/>
<path d="M351.3,741 l0,6.5 a6.6,3.3 0 0 0 13.2,0 l0,-6.5 Z" fill="#cfcfcf"/>
<ellipse cx="357.9" cy="741" rx="6.9" ry="3.6" fill="#f4f4f4"/>
<path d="M336,745.6 l0,6.5 a6.6,3.3 0 0 0 13.2,0 l0,-6.5 Z" fill="#cfcfcf"/>
<ellipse cx="342.6" cy="745.6" rx="6.9" ry="3.6" fill="#f4f4f4"/>
<path d="M394.4,740 l0,6.5 a6.6,3.3 0 0 0 13.2,0 l0,-6.5 Z" fill="#cfcfcf"/>
<ellipse cx="401" cy="740" rx="6.9" ry="3.6" fill="#f4f4f4"/>
<path d="M380.5,744.2 l0,6.5 a6.6,3.3 0 0 0 13.2,0 l0,-6.5 Z" fill="#cfcfcf"/>
<ellipse cx="387.1" cy="744.2" rx="6.9" ry="3.6" fill="#f4f4f4"/>
<path d="M366.6,747.8 l0,6.5 a6.6,3.3 0 0 0 13.2,0 l0,-6.5 Z" fill="#cfcfcf"/>
<ellipse cx="373.2" cy="747.8" rx="6.9" ry="3.6" fill="#f4f4f4"/>
<path d="M351.3,752.6 l0,6.5 a6.6,3.3 0 0 0 13.2,0 l0,-6.5 Z" fill="#cfcfcf"/>
<ellipse cx="357.9" cy="752.6" rx="6.9" ry="3.6" fill="#f4f4f4"/>
<path d="M12.2,684.5 Q-9,678.5 12.4,673.5 L97.4,653.9 Q112,650.5 126.5,654.4 L350.3,715.1 Q358,717.2 350.3,719.5 L261.4,746.2 Q247,750.5 232.6,746.4 Z" fill="#707373"/>
<path d="M12.2,681 Q-9,675 12.4,670 L97.4,650.4 Q112,647 126.5,650.9 L350.3,711.6 Q358,713.7 350.3,716 L261.4,742.7 Q247,747 232.6,742.9 Z" fill="#636565"/>
<path d="M12.2,678 Q-9,672 12.4,667 L97.4,647.4 Q112,644 126.5,647.9 L350.3,708.6 Q358,710.7 350.3,713 L261.4,739.7 Q247,744 232.6,739.9 Z" fill="url(#phn)"/>
<path d="M31.5,673 L109.5,649.5 L316,704.5 L236,729.5Z" fill="#070808" />
<ellipse cx="101.7" cy="669.3" rx="10.5" ry="4.8" fill="#fafafa"/>
<ellipse cx="125" cy="658" rx="7" ry="3.2" fill="none" stroke="#555" stroke-width="0.8"/>
<ellipse cx="78" cy="677" rx="6" ry="3" fill="none" stroke="#444" stroke-width="0.8"/>
<ellipse cx="207" cy="696" rx="22" ry="7" fill="#1d4d1a" opacity="0.75" filter="url(#bl3)"/>
<path d="M203,694.5 L221,691.5 L222,694 L214,695.5 L215,698.5 L208,699.5 L207.5,697 L203.5,697.3Z" fill="#5fe04a"/>
<rect x="118" y="674" width="10" height="1.6" fill="#cfcfcf" opacity="0.8" transform="rotate(-12 118 674)"/>
<rect x="132" y="671" width="8" height="1.6" fill="#cfcfcf" opacity="0.8" transform="rotate(-12 132 671)"/>
<rect x="145" y="668" width="7" height="1.6" fill="#cfcfcf" opacity="0.8" transform="rotate(-12 145 668)"/>
<rect x="158" y="666" width="6" height="1.6" fill="#cfcfcf" opacity="0.8" transform="rotate(-12 158 666)"/>
<rect x="104" y="686" width="8" height="1.6" fill="#cfcfcf" opacity="0.8" transform="rotate(-12 104 686)"/>
<rect x="116" y="683" width="7" height="1.6" fill="#cfcfcf" opacity="0.8" transform="rotate(-12 116 683)"/>
<rect x="140" y="678" width="5" height="1.6" fill="#cfcfcf" opacity="0.8" transform="rotate(-12 140 678)"/>
<rect x="150" y="683" width="8" height="1.6" fill="#cfcfcf" opacity="0.8" transform="rotate(-12 150 683)"/>
<rect x="200" y="714" width="5" height="1.6" fill="#cfcfcf" opacity="0.8" transform="rotate(-12 200 714)"/>
<rect x="214" y="718" width="5" height="1.6" fill="#cfcfcf" opacity="0.8" transform="rotate(-12 214 718)"/>
<rect x="228" y="721" width="5" height="1.6" fill="#cfcfcf" opacity="0.8" transform="rotate(-12 228 721)"/>
<rect x="245" y="716" width="4" height="1.6" fill="#cfcfcf" opacity="0.8" transform="rotate(-12 245 716)"/>
<rect x="261" y="711" width="3" height="1.6" fill="#cfcfcf" opacity="0.8" transform="rotate(-12 261 711)"/>
<defs><linearGradient id="drw" x1="0" y1="0" x2="1" y2="0"><stop offset="0" stop-color="#82888d"/><stop offset="1" stop-color="#959ba1"/></linearGradient></defs>
<path d="M490,873 L601.9,843.4 L672.6,858.7 L557,893Z" fill="#43464a" />
<path d="M503,872.6 L552.2,859.6 L560.5,879 L545,886Z" fill="#8e9398" />
<path d="M561.5,857.2 L601.5,846.6 L608,868 L601.5,873Z" fill="#8a8f94" />
<path d="M552.2,859.6 L561.5,857.2 L601.5,873 L560.5,879Z" fill="#3d4043" />
<path d="M601.5,846.6 L668,860 L668,862.5 L608,868Z" fill="#3f4245" />
<path d="M490,873 L557,893 L557,914.1 L491,895.2Z" fill="#4d5052" />
<path d="M557,893 L672.6,858.7 L672.6,884.5 L557,914.1Z" fill="url(#drw)" />
<path d="M490,873 L601.9,843.4 L672.6,858.7 L557,893 Z M499.5,872.7 L557.8,889.6 L663,859.2 L601.3,846.4 Z" fill="#7b8085" fill-rule="evenodd"/>
<path d="M557,893 L672.6,858.7 L672.6,860.7 L557,895 Z" fill="#a2a8ae"/>
<circle cx="616.8" cy="887.6" r="7.6" fill="#3c3f41"/><circle cx="618.6" cy="887.2" r="6.6" fill="#b0b5b9"/><circle cx="619.4" cy="886.6" r="4.2" fill="#c3c7cb"/>
<path d="M484.3,939.9 L612.4,910.3 L613.3,987.7 L485.3,1018.3Z" fill="#3d3e41" />
<path d="M504.4,949.5 L574.2,933.2 L574.2,979.1 L504.4,995.3Z" fill="url(#lcd)" />
<g transform="translate(525,965.2) skewY(-12.5) skewX(-6)" fill="none" stroke="#cb3358" stroke-width="1.8" stroke-linejoin="round"><path d="M10,0 L0,0 L0,-11 L10,-11 L10,0 L10,11 L1,11"/><path d="M15,-11 L25,-11 L25,11 L15,11 Z"/><path d="M30,-11 L40,-11 L40,11 L30,11 Z"/></g>
<path d="M583,935.9 l11,-2.6 l0,11.5 l-11,2.6Z" fill="#ea8a38"/>
<path d="M585.5,938.6 l6,-1.4 l0,5 l-6,1.4Z" fill="#fddcae"/>
<path d="M600.2,930.6 l11,-2.6 l0,11.5 l-11,2.6Z" fill="#ea8a38"/>
<path d="M602.7,933.3 l6,-1.4 l0,5 l-6,1.4Z" fill="#fddcae"/>
<path d="M583,958.3 l11,-2.6 l0,11.5 l-11,2.6Z" fill="#ea8a38"/>
<path d="M585.5,961 l6,-1.4 l0,5 l-6,1.4Z" fill="#fddcae"/>
<path d="M600.2,953.5 l11,-2.6 l0,11.5 l-11,2.6Z" fill="#ea8a38"/>
<path d="M602.7,956.2 l6,-1.4 l0,5 l-6,1.4Z" fill="#fddcae"/>
<text transform="translate(485.3,964) skewY(-12.5)" font-family="Liberation Sans, sans-serif" font-weight="bold" font-size="6.2" fill="#f0f0f0" textLength="17.5" lengthAdjust="spacingAndGlyphs">WORK</text>
<text transform="translate(491,983.2) skewY(-12.5)" font-family="Liberation Sans, sans-serif" font-weight="bold" font-size="6.2" fill="#f0f0f0" textLength="11.5" lengthAdjust="spacingAndGlyphs">SET</text>
<text transform="translate(575,941) skewY(-12.5)" font-family="Liberation Sans, sans-serif" font-weight="bold" font-size="7" fill="#e8e8e8">C</text>
</g>
<defs><clipPath id="mapclip"><rect x="711.2" y="518" width="436.8" height="548"/></clipPath>
<linearGradient id="ping" x1="0" y1="0" x2="0" y2="1"><stop offset="0" stop-color="#d43943"/><stop offset="0.55" stop-color="#c5323c"/><stop offset="1" stop-color="#a62731"/></linearGradient></defs>
<rect x="711.2" y="518" width="436.8" height="548" fill="#b3d3fb"/>
<g clip-path="url(#mapclip)"><g filter="url(#bl1)">
<path d="M690,600 C693.7,599.7 703.8,599.2 712,598 C720.2,596.8 729.3,594.5 739,593 C748.7,591.5 760.8,589.2 770,589 C779.2,588.8 786.7,590 794,592 C801.3,594 807.8,596.8 814,601 C820.2,605.2 827.5,612 831,617 C834.5,622 835.5,626.2 835,631 C834.5,635.8 830.8,641.2 828,646 C825.2,650.8 821.7,655 818,660 C814.3,665 808.8,671 806,676 C803.2,681 801,686 801,690 C801,694 801.3,698.3 806,700 C810.7,701.7 820.3,700.7 829,700 C837.7,699.3 849,698.7 858,696 C867,693.3 875.8,686.8 883,684 C890.2,681.2 895.7,679 901,679 C906.3,679 912,681 915,684 C918,687 919,691.3 919,697 C919,702.7 916.5,711 915,718 C913.5,725 912.3,732 910,739 C907.7,746 904.8,753.5 901,760 C897.2,766.5 892,772.8 887,778 C882,783.2 875.5,789.5 871,791 C866.5,792.5 863,790.3 860,787 C857,783.7 855,777.2 853,771 C851,764.8 850.2,756.5 848,750 C845.8,743.5 844.3,736.5 840,732 C835.7,727.5 828.2,724.7 822,723 C815.8,721.3 806.8,718.8 803,722 C799.2,725.2 800,735.3 799,742 C798,748.7 803.5,756.5 797,762 C790.5,767.5 766.5,770.3 760,775 C753.5,779.7 756.7,782.3 758,790 C759.3,797.7 762.7,809.3 768,821 C773.3,832.7 782.5,846.3 790,860 C797.5,873.7 805.8,890 813,903 C820.2,916 828.2,929.5 833,938 C837.8,946.5 836.7,952 842,954 C847.3,956 858,951.7 865,950 C872,948.3 877.3,946.3 884,944 C890.7,941.7 898.2,939.7 905,936 C911.8,932.3 920,925.3 925,922 C930,918.7 932,916 935,916 C938,916 942.2,915.7 943,922 C943.8,928.3 941.8,943.3 940,954 C938.2,964.7 933.8,977.8 932,986 C930.2,994.2 925.2,1000.5 929,1003 C932.8,1005.5 946.2,1003.2 955,1001 C963.8,998.8 974.8,993.2 982,990 C989.2,986.8 992.7,981.3 998,982 C1003.3,982.7 1004.8,987.5 1014,994 C1023.2,1000.5 1040.7,1014.5 1053,1021 C1065.3,1027.5 1080.7,1028.5 1088,1033 C1095.3,1037.5 1096.3,1041.8 1097,1048 C1097.7,1054.2 1093.2,1063.8 1092,1070 C1090.8,1076.2 1090.3,1082.5 1090,1085 L690,1085 Z" fill="#c4eed2"/>
<path d="M823,510 C809.3,512.5 829,520.8 836,525 C843,529.2 855,532.7 865,535 C875,537.3 887.8,539.3 896,539 C904.2,538.7 910.3,537.8 914,533 C917.7,528.2 933.2,513.8 918,510 C902.8,506.2 836.7,507.5 823,510Z" fill="#c4eed2"/>
<path d="M1116,510 C1107.8,515 1110.2,532.8 1111,540 C1111.8,547.2 1114.2,549.7 1121,553 C1127.8,556.3 1145.5,567.2 1152,560 C1158.5,552.8 1166,518.3 1160,510 C1154,501.7 1124.2,505 1116,510Z" fill="#c4eed2"/>
<path d="M994,750 C995,744.3 998.8,740.7 1004,738 C1009.2,735.3 1016.8,734.2 1025,734 C1033.2,733.8 1043.2,735.3 1053,737 C1062.8,738.7 1073.7,740.8 1084,744 C1094.3,747.2 1102.3,752.3 1115,756 C1127.7,759.7 1152.5,755 1160,766 C1167.5,777 1168.2,811.5 1160,822 C1151.8,832.5 1125,825.2 1111,829 C1097,832.8 1085.7,841 1076,845 C1066.3,849 1060,852.5 1053,853 C1046,853.5 1037.5,852 1034,848 C1030.5,844 1033,837 1032,829 C1031,821 1031.7,806.3 1028,800 C1024.3,793.7 1015,795.7 1010,791 C1005,786.3 1000.7,778.8 998,772 C995.3,765.2 993,755.7 994,750Z" fill="#c4eed2"/>
<path d="M700,606 C702.7,574.7 710.3,603.7 716,612 C721.7,620.3 724.7,644.7 734,656 C743.3,667.3 763.7,672.7 772,680 C780.3,687.3 781.7,693 784,700 C786.3,707 788.3,714 786,722 C783.7,730 776.3,740.3 770,748 C763.7,755.7 759.7,759.3 748,768 C736.3,776.7 708,827 700,800 C692,773 697.3,637.3 700,606Z" fill="#f3f1ec"/>
<path d="M700,832 C702.7,802.7 707.5,839.3 716,850 C724.5,860.7 737.7,879.2 751,896 C764.3,912.8 788.8,939.3 796,951 C803.2,962.7 801.5,958.8 794,966 C786.5,973.2 766.7,984 751,994 C735.3,1004 708.5,1053 700,1026 C691.5,999 697.3,861.3 700,832Z" fill="#f3f1ec"/>
<path d="M711,616 C730,655 770,672 783,696 L784.5,728 C785,740 770,745 760,752 C748,760 746,775 746,790 C752,815 775,850 790,878 C810,915 830,940 839,960" fill="none" stroke="#fbfbf8" stroke-linecap="round" stroke-linejoin="round" stroke-width="5"/>
<path d="M792,700 L794,728 C796,745 792,765 788,782" fill="none" stroke="#fbfbf8" stroke-linecap="round" stroke-linejoin="round" stroke-width="3"/>
<path d="M786,724 C800,712 830,716 848,708 C866,700 880,694 896,696" fill="none" stroke="#fbfbf8" stroke-linecap="round" stroke-linejoin="round" stroke-width="3"/>
<path d="M839,960 C852,958 868,953 884,946" fill="none" stroke="#fbfbf8" stroke-linecap="round" stroke-linejoin="round" stroke-width="5"/>
<path d="M839,960 C820,970 805,985 799,1005 C794,1025 794,1045 799,1068" fill="none" stroke="#fbfbf8" stroke-linecap="round" stroke-linejoin="round" stroke-width="5"/>
<path d="M914,952 C908,970 903,990 906,1005 C912,1018 925,1024 934,1032" fill="none" stroke="#fbfbf8" stroke-linecap="round" stroke-linejoin="round" stroke-width="4"/>
<path d="M816,1068 C822,1045 840,1030 868,1020 C890,1014 915,1015 934,1032 C945,1042 952,1055 956,1068" fill="none" stroke="#fbfbf8" stroke-linecap="round" stroke-linejoin="round" stroke-width="4"/>
<path d="M722,1024 C730,1040 738,1050 760,1054 C775,1057 785,1058 798,1062" fill="none" stroke="#fbfbf8" stroke-linecap="round" stroke-linejoin="round" stroke-width="3"/>
<path d="M1150,785 C1122,790 1096,798 1079,808 C1069,815 1064.5,821 1062.5,828" fill="none" stroke="#fbfbf8" stroke-linecap="round" stroke-linejoin="round" stroke-width="4"/>
<path d="M716,700 C735,694 760,700 780,706" fill="none" stroke="#fbfbf8" stroke-linecap="round" stroke-linejoin="round" stroke-width="2.5"/>
</g></g>
<rect x="711.2" y="518" width="436.8" height="548" fill="none" stroke="#76879a" stroke-width="2"/>
<path d="M758.7,540.5 L739.8,582 L758.7,566.4 Z" fill="#ffffff"/><path d="M758.7,540.5 L780.3,582 L758.7,566.4 Z" fill="#0a0a0a"/>
<text x="751.3" y="597.5" font-family="Liberation Sans, sans-serif" font-size="24.5" fill="#121a1a">N</text>
<text x="836.5" y="575.7" font-family="Liberation Sans, sans-serif" font-size="31.4" fill="#1c2026">Heilong Lake</text>
<g filter="url(#bl05)">
<path d="M1041.8,707.1 C1039.8,699.2 1029.8,696.5 1029.8,683.4 A12,12 0 1 1 1053.8,683.4 C1053.8,696.5 1043.8,699.2 1041.8,707.1 Z" fill="url(#ping)"/><circle cx="1041.8" cy="683.4" r="7.4" fill="#f6f8fc"/><circle cx="1041.8" cy="683.4" r="5" fill="#b9d3ee"/>
<rect x="1060.7" y="674.5" width="63.3" height="29" rx="14.5" fill="#e9f1fd" stroke="#9fb0c8" stroke-width="1.4"/><text x="1092.3" y="694.5" text-anchor="middle" font-family="Liberation Sans, sans-serif" font-size="16.2" fill="#2d3f7c" stroke="#2d3f7c" stroke-width="0.3">Site 2</text>
<path d="M897.9,767.1 C895.9,759.2 885.9,756.5 885.9,743.4 A12,12 0 1 1 909.9,743.4 C909.9,756.5 899.9,759.2 897.9,767.1 Z" fill="url(#ping)"/><circle cx="897.9" cy="743.4" r="7.4" fill="#f6f8fc"/><circle cx="897.9" cy="743.4" r="5" fill="#b9d3ee"/>
<rect x="917.5" y="736" width="62.5" height="29" rx="14.5" fill="#e9f1fd" stroke="#9fb0c8" stroke-width="1.4"/><text x="948.8" y="756" text-anchor="middle" font-family="Liberation Sans, sans-serif" font-size="16.2" fill="#2d3f7c" stroke="#2d3f7c" stroke-width="0.3">Site 3</text>
<path d="M843.6,788.6 C841.6,780.7 831.6,778 831.6,764.9 A12,12 0 1 1 855.6,764.9 C855.6,778 845.6,780.7 843.6,788.6 Z" fill="url(#ping)"/><circle cx="843.6" cy="764.9" r="7.4" fill="#f6f8fc"/><circle cx="843.6" cy="764.9" r="5" fill="#b9d3ee"/>
<rect x="762" y="757.3" width="63" height="29" rx="14.5" fill="#e9f1fd" stroke="#9fb0c8" stroke-width="1.4"/><text x="793.5" y="777.3" text-anchor="middle" font-family="Liberation Sans, sans-serif" font-size="16.2" fill="#2d3f7c" stroke="#2d3f7c" stroke-width="0.3">Site 4</text>
<path d="M861.4,952.6 C859.4,945.1 850,942.5 850,929.9 A11.4,11.4 0 1 1 872.8,929.9 C872.8,942.5 863.4,945.1 861.4,952.6 Z" fill="url(#ping)"/><circle cx="861.4" cy="929.9" r="7.1" fill="#f6f8fc"/><circle cx="861.4" cy="929.9" r="4.8" fill="#b9d3ee"/>
<rect x="881" y="923" width="62.7" height="28" rx="14" fill="#e9f1fd" stroke="#9fb0c8" stroke-width="1.4"/><text x="912.4" y="942.5" text-anchor="middle" font-family="Liberation Sans, sans-serif" font-size="16.2" fill="#2d3f7c" stroke="#2d3f7c" stroke-width="0.3">Site 1</text>
</g>
<path d="M726.5,1041.5 L726.5,1046.7 L793.5,1046.7 L793.5,1041.5" fill="none" stroke="#0d0d0d" stroke-width="2.6"/>
<text x="741.5" y="1040.5" font-family="Liberation Sans, sans-serif" font-size="13.5" fill="#1a1a1a" stroke="#1a1a1a" stroke-width="0.3">100 m</text>
</svg>
</body></html>
